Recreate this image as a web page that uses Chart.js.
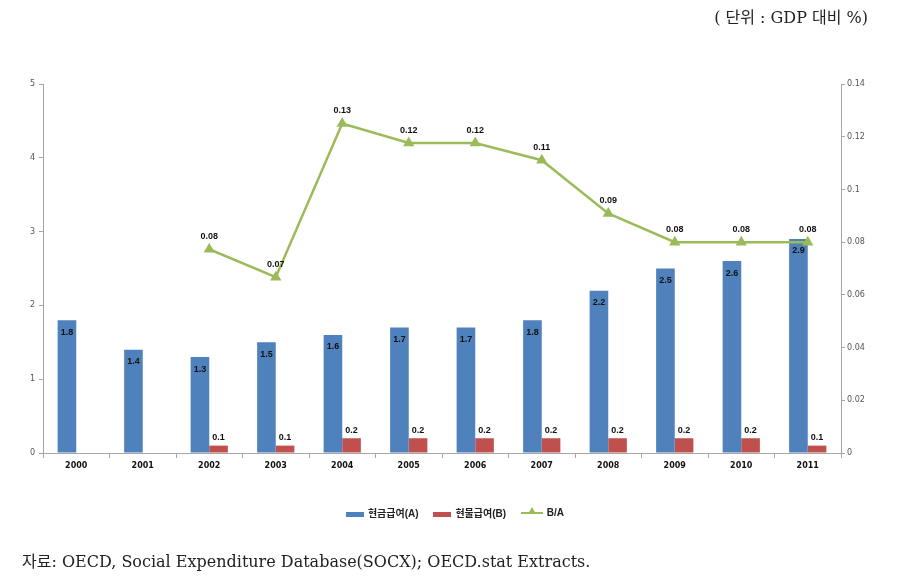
<!DOCTYPE html>
<html>
<head>
<meta charset="utf-8">
<script src="https://cdn.jsdelivr.net/npm/chart.js@4"></script>
<style>
  body { margin: 0; background: #fff; }
  #wrap { position: relative; width: 910px; height: 579px; }
  #chart { position: absolute; left: 0; top: 0; }
  .unit { position: absolute; right: 42px; top: 4px; font: 16px "DejaVu Serif", "Noto Sans CJK KR", serif; color: #222; }
  .src { position: absolute; left: 22px; top: 548px; font: 16px "DejaVu Serif", "Noto Sans CJK KR", serif; color: #222; }
  .legend { position: absolute; left: 0; width: 910px; top: 505px; text-align: center; font: bold 10px "Liberation Sans", "Noto Sans CJK KR", sans-serif; color: #222; }
  .legend span.item { display: inline-block; margin: 0 6px; vertical-align: middle; }
  .sw { display: inline-block; width: 18px; height: 5px; vertical-align: middle; margin-right: 4px; }
  .ln { position: relative; display: inline-block; width: 22px; height: 2px; background: #9BBB59; vertical-align: middle; margin-right: 4px; }
  .ln i { position: absolute; left: 7px; top: -5px; width: 0; height: 0; border-left: 4px solid transparent; border-right: 4px solid transparent; border-bottom: 7px solid #9BBB59; }
</style>
</head>
<body>
<div id="wrap">
  <canvas id="chart" width="910" height="579"></canvas>
  <div class="unit">( 단위 : GDP 대비 %)</div>
  <div class="legend">
    <span class="item"><span class="sw" style="background:#4F81BD"></span>현금급여(A)</span>
    <span class="item"><span class="sw" style="background:#C0504D"></span>현물급여(B)</span>
    <span class="item"><span class="ln"><i></i></span>B/A</span>
  </div>
  <div class="src">자료: OECD, Social Expenditure Database(SOCX); OECD.stat Extracts.</div>
</div>
<script>
const years = ['2000', '2001', '2002', '2003', '2004', '2005', '2006', '2007', '2008', '2009', '2010', '2011'];
const cashA = [1.8, 1.4, 1.3, 1.5, 1.6, 1.7, 1.7, 1.8, 2.2, 2.5, 2.6, 2.9];
const kindB = [null, null, 0.1, 0.1, 0.2, 0.2, 0.2, 0.2, 0.2, 0.2, 0.2, 0.1];
const ratio = [null, null, 0.0773, 0.0667, 0.125, 0.1176, 0.1176, 0.1111, 0.0909, 0.08, 0.08, 0.08];

const labelFont = 'bold 9px "Liberation Sans", sans-serif';

// value labels on bars and line points
const valueLabels = {
  id: 'valueLabels',
  afterDatasetsDraw(chart) {
    const c = chart.ctx;
    c.save();
    c.font = labelFont;
    c.fillStyle = '#111';
    c.textAlign = 'center';
    c.textBaseline = 'middle';
    chart.data.datasets.forEach((ds, i) => {
      chart.getDatasetMeta(i).data.forEach((el, j) => {
        const v = ds.data[j];
        if (v == null) return;
        if (i === 0) c.fillText(v.toFixed(1), el.x, el.y + 12);
        else if (i === 1) c.fillText(v.toFixed(1), el.x, el.y - 8);
        else c.fillText(v.toFixed(2), el.x, el.y - 13);
      });
    });
    c.restore();
  }
};

const tickFont = { family: '"DejaVu Sans", sans-serif', size: 8 };

new Chart(document.getElementById('chart'), {
  type: 'bar',
  data: {
    labels: years,
    datasets: [
      { label: '현금급여(A)', data: cashA, backgroundColor: '#4F81BD', yAxisID: 'y', order: 2 },
      { label: '현물급여(B)', data: kindB, backgroundColor: '#C0504D', yAxisID: 'y', order: 2 },
      {
        type: 'line', label: 'B/A', data: ratio, yAxisID: 'y2', order: 1,
        borderColor: '#9BBB59', backgroundColor: '#9BBB59', borderWidth: 2.5,
        pointStyle: 'triangle', pointRadius: 4, tension: 0, spanGaps: false
      }
    ]
  },
  options: {
    responsive: false,
    animation: false,
    layout: { padding: { left: 0, right: 0, top: 84, bottom: 106 } },
    datasets: { bar: { categoryPercentage: 0.56, barPercentage: 1 } },
    scales: {
      x: {
        grid: { drawOnChartArea: false, tickLength: 5, color: '#a6a6a6' },
        border: { color: '#a6a6a6' },
        ticks: { font: { family: '"DejaVu Sans", sans-serif', size: 8, weight: 'bold' }, color: '#111', padding: 3, maxRotation: 0 },
        afterFit(s) { s.height = 20; }
      },
      y: {
        position: 'left', min: 0, max: 5,
        grid: { drawOnChartArea: false, tickLength: 4, color: '#a6a6a6' },
        border: { color: '#a6a6a6' },
        ticks: { stepSize: 1, font: tickFont, color: '#555', padding: 4 },
        afterFit(s) { s.width = 43; }
      },
      y2: {
        position: 'right', min: 0, max: 0.14,
        grid: { drawOnChartArea: false, tickLength: 4, color: '#a6a6a6' },
        border: { color: '#a6a6a6' },
        ticks: { stepSize: 0.02, font: tickFont, color: '#555', padding: 2,
          callback: v => String(+v.toFixed(2)) },
        afterFit(s) { s.width = 69; }
      }
    },
    plugins: {
      legend: { display: false },
      tooltip: { enabled: false }
    }
  },
  plugins: [valueLabels]
});
</script>
</body>
</html>
